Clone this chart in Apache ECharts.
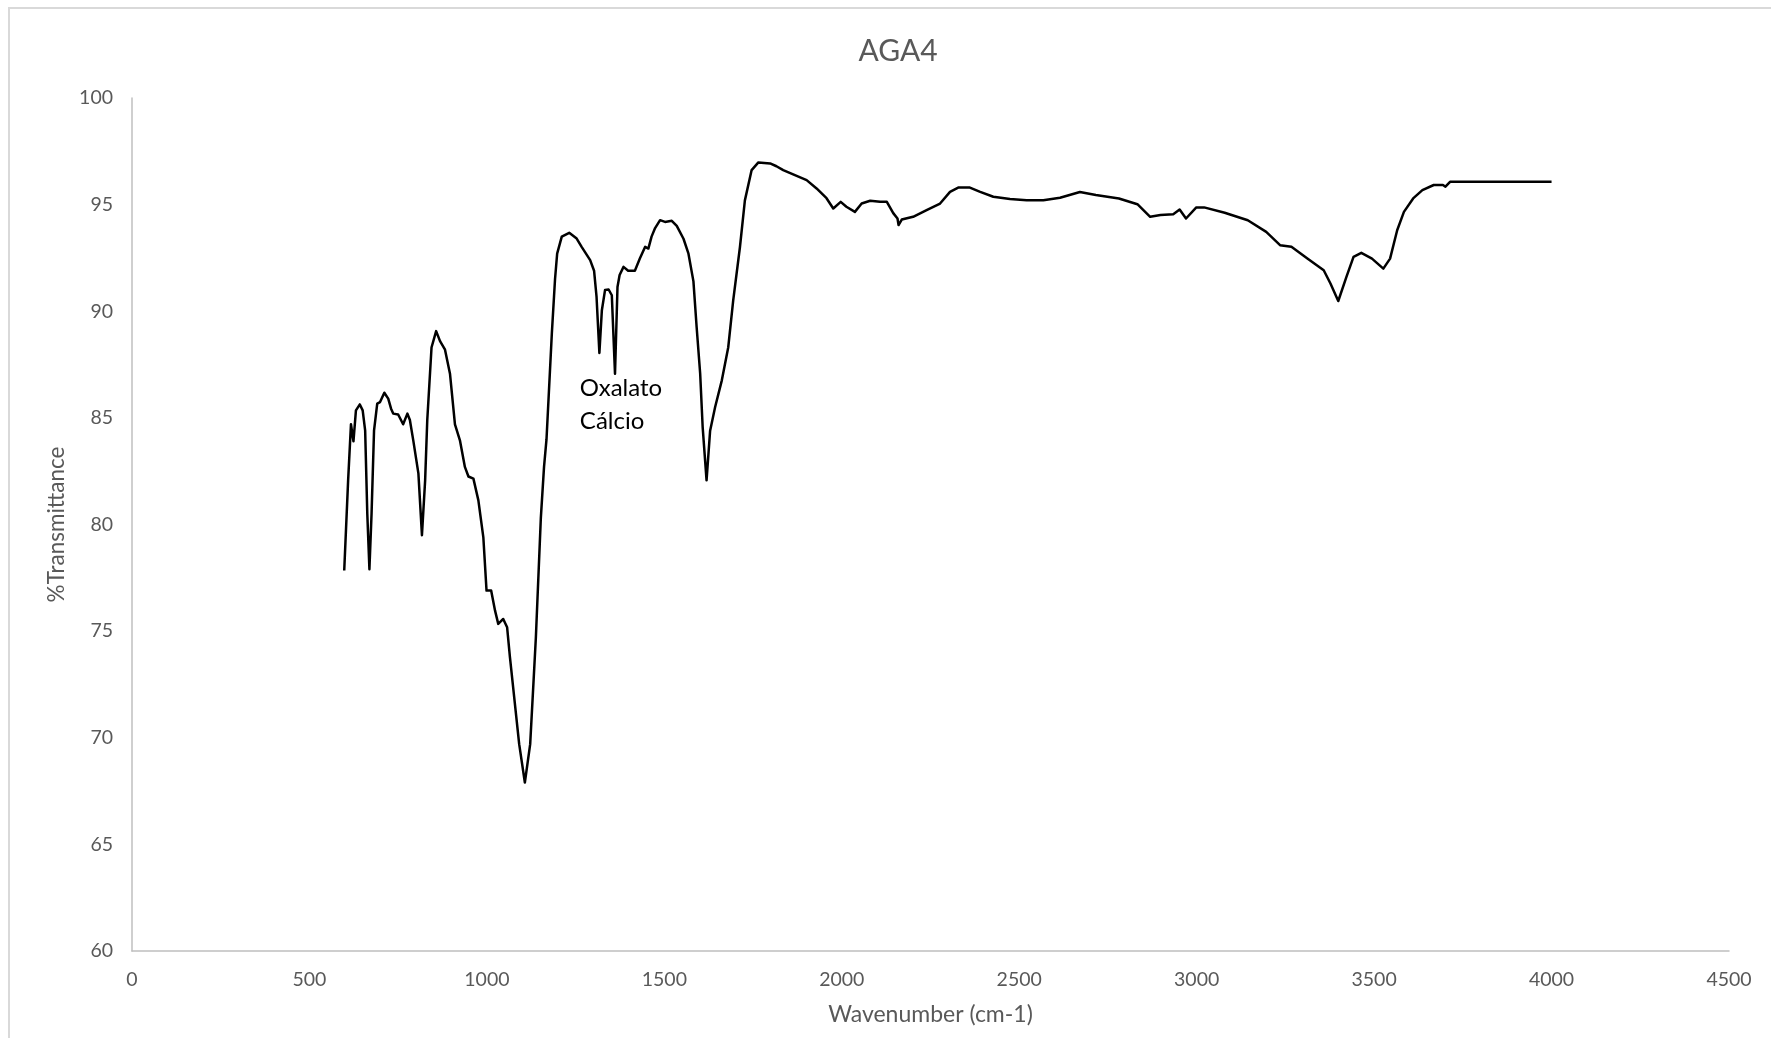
<!DOCTYPE html>
<html>
<head>
<meta charset="utf-8">
<title>AGA4</title>
<script src="https://cdn.jsdelivr.net/npm/echarts@6/dist/echarts.min.js"></script>
<style>
  html, body { margin: 0; padding: 0; background: #ffffff; }
  #chart { width: 1771px; height: 1038px; }
</style>
</head>
<body>
<div id="chart"></div>
<script>
// FTIR spectrum of sample AGA4: wavenumber (cm-1) vs %Transmittance
const wavenumber = [
  598, 609, 617, 624, 631, 642, 650, 657, 663, 669, 675, 682, 691, 699, 711, 722,
  730, 736, 750, 764, 776, 783, 793, 807, 817, 826, 832, 844, 857, 868, 882, 896,
  910, 924, 938, 948, 962, 976, 990, 999, 1012, 1023, 1032, 1046, 1057, 1065, 1079, 1091,
  1107, 1122, 1131, 1138, 1145, 1152, 1161, 1168, 1183, 1192, 1198, 1211, 1232, 1253, 1267, 1291,
  1302, 1309, 1317, 1324, 1333, 1343, 1352, 1361, 1368, 1374, 1385, 1398, 1417, 1431, 1446, 1455,
  1464, 1474, 1488, 1502, 1521, 1535, 1554, 1568, 1582, 1591, 1601, 1608, 1619, 1629, 1643, 1662,
  1680, 1694, 1713, 1727, 1746, 1765, 1798, 1816, 1835, 1863, 1901, 1929, 1957, 1976, 1997, 2013,
  2037, 2056, 2080, 2108, 2127, 2145, 2157, 2160, 2169, 2201, 2239, 2277, 2305, 2328, 2361, 2390,
  2427, 2474, 2521, 2568, 2615, 2671, 2716, 2781, 2833, 2869, 2898, 2934, 2952, 2970, 2999, 3021,
  3079, 3144, 3196, 3235, 3267, 3312, 3358, 3377, 3399, 3422, 3442, 3464, 3494, 3526, 3545, 3565,
  3584, 3610, 3636, 3668, 3694, 3701, 3714, 3800, 3900, 4000
];
const transmittance = [
  77.84, 82.07, 84.7, 83.9, 85.35, 85.63, 85.35, 84.4, 80.5, 77.9, 80.5, 84.4, 85.67, 85.74, 86.18, 85.9,
  85.43, 85.2, 85.16, 84.7, 85.2, 84.9, 83.9, 82.4, 79.5, 82.07, 84.9, 88.3, 89.07, 88.6, 88.2, 87.07,
  84.7, 83.95, 82.7, 82.25, 82.15, 81.13, 79.4, 76.9, 76.9, 75.96, 75.34, 75.57, 75.18, 73.77, 71.58, 69.7,
  67.9, 69.7, 72.5, 74.7, 77.5, 80.3, 82.7, 84.0, 88.95, 91.5, 92.7, 93.5, 93.68, 93.41, 93.02, 92.4,
  91.9, 90.67, 88.04, 90.05, 91.0, 91.02, 90.75, 87.07, 91.14, 91.7, 92.08, 91.9, 91.9, 92.47, 93.02, 92.94,
  93.5, 93.9, 94.27, 94.19, 94.24, 94.0, 93.4, 92.7, 91.4, 89.26, 87.07, 84.57, 82.07, 84.4, 85.5, 86.76,
  88.3, 90.5, 93.0, 95.2, 96.62, 96.98, 96.93, 96.8, 96.62, 96.42, 96.15, 95.76, 95.3, 94.82, 95.13, 94.9,
  94.66, 95.05, 95.18, 95.13, 95.13, 94.6, 94.35, 94.04, 94.3, 94.43, 94.74, 95.05, 95.6, 95.8, 95.8, 95.6,
  95.37, 95.26, 95.21, 95.21, 95.32, 95.59, 95.45, 95.29, 95.02, 94.43, 94.51, 94.55, 94.77, 94.35, 94.87, 94.87,
  94.62, 94.27, 93.72, 93.1, 93.02, 92.47, 91.92, 91.3, 90.48, 91.61, 92.55, 92.74, 92.47, 92.0, 92.47, 93.8,
  94.66, 95.29, 95.68, 95.92, 95.92, 95.84, 96.07, 96.07, 96.07, 96.07
];

// Axis ranges and ticks
const xRange = [0, 4500];
const xStep = 500;
const yRange = [60, 100];
const yStep = 5;

// Band annotation (anchored in data coordinates)
const noteText = 'Oxalato\nCálcio';
const noteAnchor = [1262, 85.63];

const FONT = 'Lato, "Open Sans", sans-serif';
const GREY = '#595959';

const chart = echarts.init(document.getElementById('chart'), null, { renderer: 'canvas' });

const points = wavenumber.map((w, i) => [w, transmittance[i]]);

chart.setOption({
  animation: false,
  backgroundColor: '#ffffff',
  title: {
    text: 'AGA4',
    left: 893,
    textAlign: 'center',
    top: 31,
    textStyle: { fontFamily: FONT, fontSize: 30, fontWeight: 'normal', color: GREY }
  },
  grid: { left: 132, right: 42, top: 98, bottom: 87, containLabel: false },
  xAxis: {
    type: 'value',
    min: xRange[0], max: xRange[1], interval: xStep,
    name: 'Wavenumber (cm-1)',
    nameLocation: 'middle',
    nameGap: 52,
    nameTextStyle: { fontFamily: FONT, fontSize: 23, color: GREY },
    axisLine: { show: true, lineStyle: { color: '#bfbfbf', width: 1.5 } },
    axisTick: { show: false },
    splitLine: { show: false },
    axisLabel: {
      fontFamily: FONT, fontSize: 19.5, color: GREY, margin: 19,
      formatter: (v) => String(v)
    }
  },
  yAxis: {
    type: 'value',
    min: yRange[0], max: yRange[1], interval: yStep,
    name: '%Transmittance',
    nameLocation: 'middle',
    nameGap: 62,
    nameTextStyle: { fontFamily: FONT, fontSize: 22.5, color: GREY },
    axisLine: { show: true, lineStyle: { color: '#bfbfbf', width: 1.5 } },
    axisTick: { show: false },
    splitLine: { show: false },
    axisLabel: {
      fontFamily: FONT, fontSize: 19.5, color: GREY, margin: 19,
      formatter: (v) => String(v)
    }
  },
  series: [{
    type: 'line',
    data: points,
    showSymbol: false,
    smooth: false,
    lineStyle: { color: '#000000', width: 2.5, join: 'round' },
    z: 3
  }]
});

// Chart frame and annotation text placed after the grid is laid out
const anchorPx = chart.convertToPixel({ gridIndex: 0 }, noteAnchor);
chart.setOption({
  graphic: [
    {
      type: 'rect',
      z: -1,
      silent: true,
      shape: { x: 9, y: 8, width: 1800, height: 1100 },
      style: { fill: 'none', stroke: '#d9d9d9', lineWidth: 2 }
    },
    {
      type: 'text',
      z: 10,
      x: anchorPx[0],
      y: anchorPx[1],
      style: {
        text: noteText,
        font: '24px ' + FONT,
        fill: '#000000',
        textAlign: 'left',
        textVerticalAlign: 'middle',
        lineHeight: 33
      }
    }
  ]
});
</script>
</body>
</html>
